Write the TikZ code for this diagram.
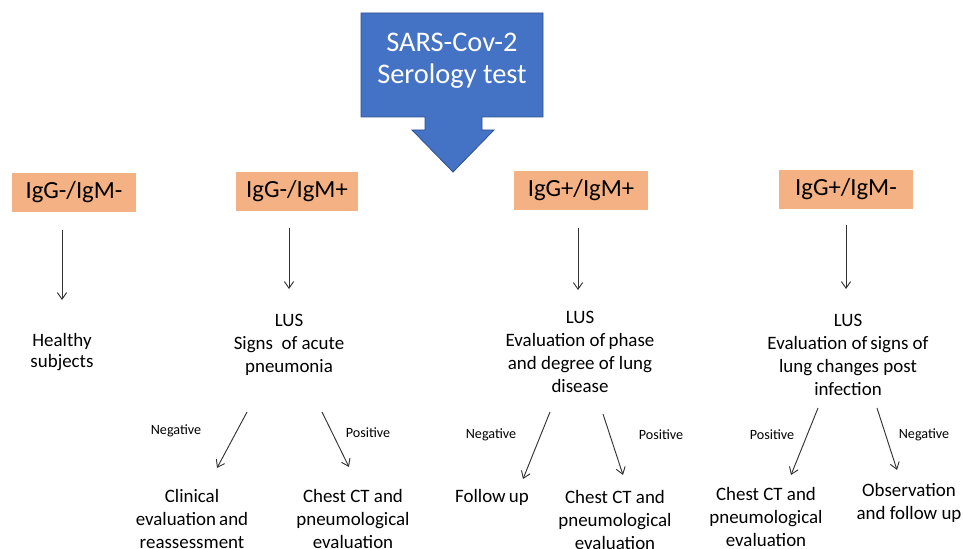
\documentclass[tikz,border=0pt]{standalone}
\usepackage{fontspec}
\setmainfont{Carlito}
\usetikzlibrary{arrows.meta}
\definecolor{blueA}{HTML}{4472C4}
\definecolor{blueB}{HTML}{2F528F}
\definecolor{orangeA}{HTML}{F4B183}
\definecolor{lineC}{HTML}{333333}
\tikzset{
  ybox/.style={fill=orangeA, draw=none, minimum width=#1, minimum height=29pt, inner sep=0pt, font=\fontsize{18.5pt}{20pt}\selectfont},
  body/.style={align=center, inner sep=0pt, font=\fontsize{14.2pt}{17.2pt}\selectfont},
  small/.style={inner sep=0pt, font=\fontsize{10.6pt}{12pt}\selectfont},
  arr/.style={draw=lineC, line width=0.7pt, -{Straight Barb[length=5pt,width=7pt]}},
  title/.style={align=center, text=white, inner sep=0pt, font=\fontsize{21.3pt}{24pt}\selectfont}
}
\begin{document}
\begin{tikzpicture}[x=0.75pt,y=-0.75pt]
\useasboundingbox (0,0) rectangle (963,549);
% big blue down arrow
\draw[fill=blueA, draw=blueB, line width=0.6pt]
  (361,13) -- (543,13) -- (543,117) -- (482,117) -- (482,130) -- (494,130) -- (453,172)
  -- (412,130) -- (425,130) -- (425,117) -- (361,117) -- cycle;
\node[title] (t) at (452,61) {SARS-Cov-2\\Serology test};
% orange boxes
\node[ybox=93pt] (b1) at (74,192.5) {IgG-/IgM-};
\node[ybox=91.5pt] (b2) at (297,191.5) {IgG-/IgM+};
\node[ybox=100.5pt] (b3) at (581,190.5) {IgG+/IgM+};
\node[ybox=100.5pt] (b4) at (846,189.5) {IgG+/IgM-};
% second level
\node[body, font=\fontsize{14.2pt}{15.5pt}\selectfont] (h) at (62,352) {Healthy\\subjects};
\node[body] (l2) at (289,345) {LUS\\Signs\ \ of acute\\pneumonia};
\node[body] (l3) at (580,352) {LUS\\Evaluation of\,phase\\and degree of lung\\disease};
\node[body] (l4) at (848,355) {LUS\\Evaluation of\,signs of\\lung changes post\\infection};
% vertical arrows
\coordinate (v1a) at (62,230);  \coordinate (v1b) at (62,300);
\coordinate (v2a) at (289,228); \coordinate (v2b) at (289,289);
\coordinate (v3a) at (578,228); \coordinate (v3b) at (578,290);
\coordinate (v4a) at (846,225); \coordinate (v4b) at (846,289);
\draw[arr] (v1a) -- (v1b);
\draw[arr] (v2a) -- (v2b);
\draw[arr] (v3a) -- (v3b);
\draw[arr] (v4a) -- (v4b);
% bottom level
\node[body] (c1) at (192,519) {Clinical\\evaluation\,and\\reassessment};
\node[body] (c2) at (353,519) {Chest CT and\\pneumological\\evaluation};
\node[body] (c3) at (492,497) {Follow\,up};
\node[body] (c4) at (615,520) {Chest CT and\\pneumological\\evaluation};
\node[body] (c5) at (766,517) {Chest CT and\\pneumological\\evaluation};
\node[body] (c6) at (909,503) {Observation\\and follow up};
% labels
\node[small] (n1) at (176,431) {Negative};
\node[small] (p1) at (368,433) {Positive};
\node[small] (n2) at (491,435) {Negative};
\node[small] (p2) at (661,435) {Positive};
\node[small] (p3) at (772,435) {Positive};
\node[small] (n3) at (924,435) {Negative};
% diagonal arrows
\coordinate (d1a) at (247,412); \coordinate (d1b) at (217,468);
\coordinate (d2a) at (322,412); \coordinate (d2b) at (349,467);
\coordinate (d3a) at (550,412); \coordinate (d3b) at (523,479);
\coordinate (d4a) at (603,414); \coordinate (d4b) at (623,475);
\coordinate (d5a) at (818,408); \coordinate (d5b) at (791,475);
\coordinate (d6a) at (877,408); \coordinate (d6b) at (897,470);
\draw[arr] (d1a) -- (d1b);
\draw[arr] (d2a) -- (d2b);
\draw[arr] (d3a) -- (d3b);
\draw[arr] (d4a) -- (d4b);
\draw[arr] (d5a) -- (d5b);
\draw[arr] (d6a) -- (d6b);
\end{tikzpicture}
\end{document}
